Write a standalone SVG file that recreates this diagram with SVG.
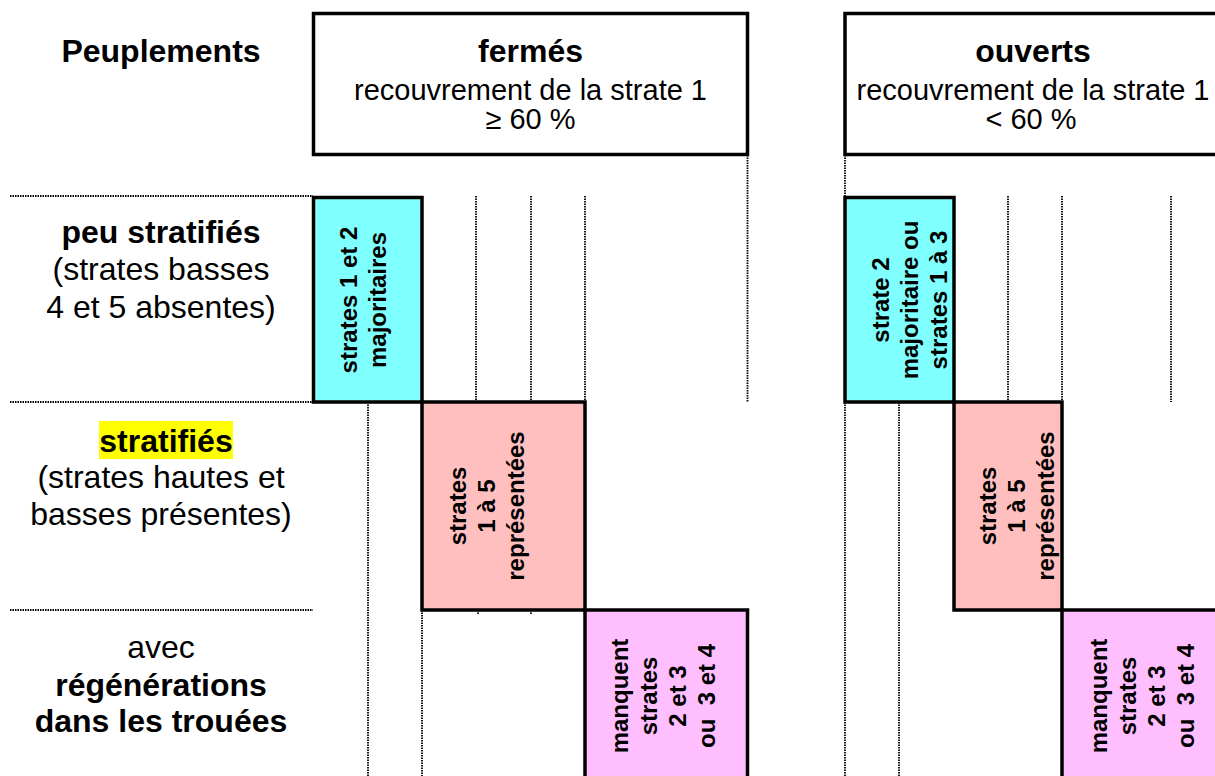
<svg xmlns="http://www.w3.org/2000/svg" width="1215" height="776" viewBox="0 0 1215 776">
<style>
  .lbl { font-family: "Liberation Sans", Arial, sans-serif; fill: #000; text-anchor: middle; }
  .b32 { font-size: 32px; font-weight: bold; }
  .r32 { font-size: 32px; }
  .r29 { font-size: 29px; }
  .box { stroke: #000; stroke-width: 3.5; }
  .hdr { fill: #fff; }
  .cyan { fill: #80ffff; }
  .pink { fill: #ffbfbf; }
  .mag { fill: #ffbfff; }
  .bt { font-family: "Liberation Sans", Arial, sans-serif; font-size: 24px; font-weight: bold; fill: #000; text-anchor: middle; }
  .dot { stroke: #000; stroke-width: 1.8; stroke-dasharray: 1.5 1; fill: none; }
</style>
<rect width="1215" height="776" fill="#fff"/>

<g id="connectors">
  <line class="dot" x1="10" y1="196" x2="313" y2="196"/>
  <line class="dot" x1="10" y1="402" x2="313" y2="402"/>
  <line class="dot" x1="10" y1="610" x2="313" y2="610"/>
  <line class="dot" x1="747.5" y1="155" x2="747.5" y2="402"/>
  <line class="dot" x1="476" y1="196" x2="476" y2="402"/>
  <line class="dot" x1="531" y1="196" x2="531" y2="402"/>
  <line class="dot" x1="585" y1="196" x2="585" y2="402"/>
  <line class="dot" x1="368" y1="402" x2="368" y2="776"/>
  <line class="dot" x1="422" y1="610" x2="422" y2="776"/>
  <line class="dot" x1="478" y1="610" x2="478" y2="614"/>
  <line class="dot" x1="531" y1="610" x2="531" y2="614"/>
  <line class="dot" x1="640" y1="610" x2="640" y2="614"/>
  <line class="dot" x1="695" y1="610" x2="695" y2="614"/>
  <line class="dot" x1="845" y1="155" x2="845" y2="196"/>
  <line class="dot" x1="1008" y1="196" x2="1008" y2="402"/>
  <line class="dot" x1="1062" y1="196" x2="1062" y2="402"/>
  <line class="dot" x1="1171" y1="196" x2="1171" y2="402"/>
  <line class="dot" x1="845" y1="402" x2="845" y2="776"/>
  <line class="dot" x1="899" y1="402" x2="899" y2="776"/>
  <line class="dot" x1="1118" y1="610" x2="1118" y2="614"/>
  <line class="dot" x1="1172" y1="610" x2="1172" y2="614"/>
</g>

<g id="row-labels">
  <text class="lbl b32" x="161" y="62">Peuplements</text>
  <g id="row-peu-stratifies">
    <text class="lbl b32" x="161" y="243">peu stratifiés</text>
    <text class="lbl r32" x="161" y="280">(strates basses</text>
    <text class="lbl r32" x="161" y="318">4 et 5 absentes)</text>
  </g>
  <g id="row-stratifies">
    <rect x="99" y="421" width="134" height="38" fill="#ffff00"/>
    <text class="lbl b32" x="166" y="452">stratifiés</text>
    <text class="lbl r32" x="161" y="488">(strates hautes et</text>
    <text class="lbl r32" x="161" y="525">basses présentes)</text>
  </g>
  <g id="row-regenerations">
    <text class="lbl r32" x="161" y="658">avec</text>
    <text class="lbl b32" x="161" y="696">régénérations</text>
    <text class="lbl b32" x="161" y="732">dans les trouées</text>
  </g>
</g>

<g id="head-fermes">
  <rect class="box hdr" x="313.5" y="13.5" width="434" height="141"/>
  <text class="lbl b32" x="530.5" y="62">fermés</text>
  <text class="lbl r29" x="530.5" y="100">recouvrement de la strate 1</text>
  <text class="lbl r29" x="530.5" y="129">≥ 60 %</text>
</g>

<g id="head-ouverts">
  <rect class="box hdr" x="845" y="13.5" width="380" height="141"/>
  <text class="lbl b32" x="1033" y="62">ouverts</text>
  <text class="lbl r29" x="1033" y="100">recouvrement de la strate 1</text>
  <text class="lbl r29" x="1031" y="129">&lt; 60 %</text>
</g>

<g id="fermes-peu">
  <rect class="box cyan" x="313.5" y="197.5" width="108.5" height="204.5"/>
  <text class="bt" transform="translate(0,300) rotate(-90)"><tspan x="0" y="357">strates 1 et 2</tspan><tspan x="0" y="386">majoritaires</tspan></text>
</g>

<g id="fermes-strat">
  <rect class="box pink" x="422" y="402" width="163" height="208"/>
  <text class="bt" transform="translate(0,506) rotate(-90)"><tspan x="0" y="466">strates</tspan><tspan x="0" y="495">1 à 5</tspan><tspan x="0" y="524">représentées</tspan></text>
</g>

<g id="fermes-regen">
  <rect class="box mag" x="585" y="610" width="162.5" height="200"/>
  <text class="bt" transform="translate(0,696) rotate(-90)"><tspan x="0" y="628">manquent</tspan><tspan x="0" y="657">strates</tspan><tspan x="0" y="686">2 et 3</tspan><tspan x="0" y="715">ou&#160; 3 et 4</tspan></text>
</g>

<g id="ouverts-peu">
  <rect class="box cyan" x="845" y="197.5" width="109" height="204.5"/>
  <text class="bt" transform="translate(0,300) rotate(-90)"><tspan x="0" y="889">strate 2</tspan><tspan x="0" y="918">majoritaire ou</tspan><tspan x="0" y="947">strates 1 à 3</tspan></text>
</g>

<g id="ouverts-strat">
  <rect class="box pink" x="954" y="402" width="108" height="208"/>
  <text class="bt" transform="translate(0,506) rotate(-90)"><tspan x="0" y="996">strates</tspan><tspan x="0" y="1025">1 à 5</tspan><tspan x="0" y="1054">représentées</tspan></text>
</g>

<g id="ouverts-regen">
  <rect class="box mag" x="1062" y="610" width="180" height="200"/>
  <text class="bt" transform="translate(0,696) rotate(-90)"><tspan x="0" y="1107">manquent</tspan><tspan x="0" y="1136">strates</tspan><tspan x="0" y="1165">2 et 3</tspan><tspan x="0" y="1194">ou&#160; 3 et 4</tspan></text>
</g>
</svg>
